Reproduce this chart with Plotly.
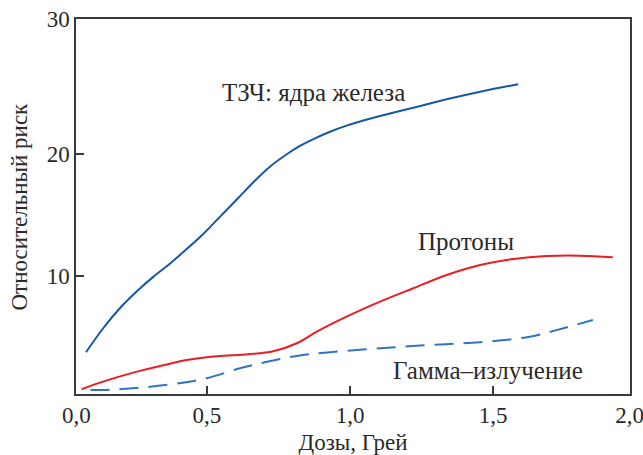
import plotly.graph_objects as go

# Data (dose in Gy, relative risk)
iron_x = [0.077, 0.137, 0.196, 0.254, 0.312, 0.371, 0.429, 0.487, 0.545, 0.604, 0.662,
          0.720, 0.779, 0.825, 0.872, 0.930, 0.988, 1.047, 1.105, 1.221, 1.338, 1.455, 1.588]
iron_y = [3.72, 5.69, 7.35, 8.70, 9.90, 11.00, 12.18, 13.42, 14.82, 16.24, 17.66,
          18.93, 19.95, 20.63, 21.20, 21.80, 22.30, 22.72, 23.09, 23.77, 24.46, 25.08, 25.69]

proton_x = [0.062, 0.126, 0.242, 0.359, 0.429, 0.534, 0.644, 0.732, 0.814, 0.884, 0.988,
            1.105, 1.221, 1.338, 1.455, 1.571, 1.688, 1.804, 1.919]
proton_y = [0.69, 1.23, 2.05, 2.72, 3.08, 3.40, 3.56, 3.80, 4.46, 5.41, 6.64,
            7.87, 8.97, 10.06, 10.88, 11.37, 11.61, 11.64, 11.51]

gamma_x = [0.093, 0.161, 0.266, 0.382, 0.499, 0.615, 0.697, 0.814, 0.930, 1.105,
           1.280, 1.455, 1.629, 1.746, 1.849]
gamma_y = [0.63, 0.66, 0.82, 1.12, 1.59, 2.41, 2.87, 3.42, 3.72, 4.05,
           4.32, 4.54, 5.00, 5.69, 6.37]

# Axis frame (as drawn in the reference: edge labels sit at the frame edges)
x_lo, x_hi = 0.042, 1.979
y_lo, y_hi = 0.30, 31.04
x_tickvals = [0.043, 0.5, 1.0, 1.5, 1.978]
x_ticktext = ["0,0", "0,5", "1,0", "1,5", "2,0"]
y_tickvals = [10, 20, 31.03]
y_ticktext = ["10", "20", "30"]

labels = ["ТЗЧ: ядра железа", "Протоны", "Гамма–излучение"]
label_x = [0.872, 1.406, 1.483]
label_y = [24.98, 12.84, 2.21]

x_title = "Дозы, Грей"
y_title = "Относительный риск"

FONT = "Liberation Serif"
AX = "#3a3a3a"
TXT = "#2a2a2a"

fig = go.Figure()
fig.add_trace(go.Scatter(x=iron_x, y=iron_y, mode="lines",
                         line=dict(color="#1557a8", width=2, shape="spline", smoothing=1)))
fig.add_trace(go.Scatter(x=proton_x, y=proton_y, mode="lines",
                         line=dict(color="#ec1c24", width=2, shape="spline", smoothing=1)))
fig.add_trace(go.Scatter(x=gamma_x, y=gamma_y, mode="lines",
                         line=dict(color="#2f74c4", width=2, shape="spline", smoothing=1,
                                   dash="19px,10px")))

for t, x, y in zip(labels, label_x, label_y):
    fig.add_annotation(x=x, y=y, text=t, showarrow=False,
                       font=dict(family=FONT, size=25, color=TXT))

# y-axis title placed as a rotated annotation left of the tick labels
fig.add_annotation(xref="paper", yref="paper", x=0, y=0.5, xanchor="center", yanchor="middle",
                   xshift=-57, textangle=-90, text=y_title, showarrow=False,
                   font=dict(family=FONT, size=23, color=TXT))

fig.update_layout(
    width=643, height=455,
    margin=dict(l=76, r=13, t=19, b=61),
    paper_bgcolor="white", plot_bgcolor="white",
    showlegend=False,
    font=dict(family=FONT, size=23, color=TXT),
)
fig.update_xaxes(range=[x_lo, x_hi], tickvals=x_tickvals, ticktext=x_ticktext,
                 automargin=False, ticklabeloverflow="allow",
                 tickfont=dict(family=FONT, size=23, color=TXT),
                 showgrid=False, zeroline=False, showline=True, linecolor=AX, linewidth=1.5,
                 mirror=True, ticks="inside", ticklen=8, tickwidth=1.5, tickcolor=AX,
                 title=dict(text=x_title, font=dict(family=FONT, size=23, color=TXT), standoff=8))
fig.update_yaxes(range=[y_lo, y_hi], tickvals=y_tickvals, ticktext=y_ticktext,
                 automargin=False, ticklabeloverflow="allow",
                 tickfont=dict(family=FONT, size=23, color=TXT),
                 showgrid=False, zeroline=False, showline=True, linecolor=AX, linewidth=1.5,
                 mirror=True, ticks="inside", ticklen=8, tickwidth=1.5, tickcolor=AX)

fig.write_html("out.html", config={"displayModeBar": False},
               post_script="document.body.style.margin='0';document.body.style.overflow='hidden';")
